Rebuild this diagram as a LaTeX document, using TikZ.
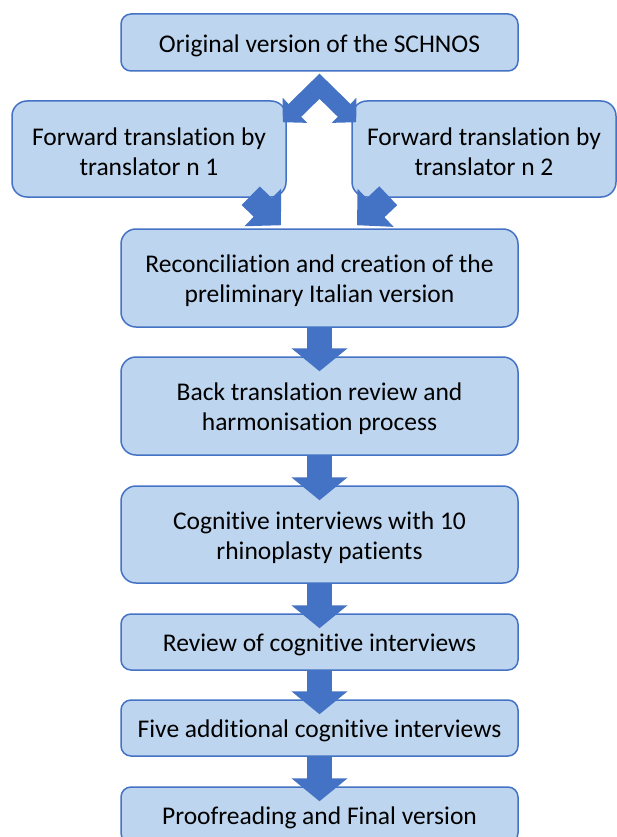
\documentclass[tikz,border=0pt]{standalone}
\usepackage{fontspec}
\setmainfont[RawFeature={-liga;-clig;-dlig;-calt}]{Carlito}
\usetikzlibrary{arrows.meta,calc}
\definecolor{boxfill}{HTML}{BDD5EE}
\definecolor{boxline}{HTML}{4472C4}
\definecolor{arrowfill}{HTML}{4472C4}
\tikzset{
  stepbox/.style={draw=boxline, line width=1.5pt, fill=boxfill, rounded corners=15pt,
    align=center, inner sep=0pt, text=black, text height=54pt,
    font=\fontsize{25.5}{30}\selectfont},
  shortbox/.style={stepbox, rounded corners=10pt, text height=24pt},
  varrow/.style={draw=arrowfill, line width=25pt,
    -{Triangle[width=55pt,length=23pt]}, shorten >=-15pt},
  chevron/.style={draw=arrowfill, line width=18pt, line join=miter,
    {Triangle[width=34pt,length=17pt]}-{Triangle[width=34pt,length=17pt]}},
  darrow/.style={draw=arrowfill, line width=26pt,
    -{Triangle[width=51pt,length=25.5pt]}}
}
\begin{document}
\begin{tikzpicture}[x=1pt,y=-1pt]
\useasboundingbox (0,0) rectangle (617,837);
\clip (0,0) rectangle (617,837);
% boxes
\node[shortbox, minimum width=397pt, minimum height=57pt] (top) at (319.5,42.5) {Original version of the SCHNOS};
\node[stepbox, minimum width=274pt, minimum height=96pt] (ft1) at (149,149) {Forward translation by\\translator n 1};
\node[stepbox, minimum width=264pt, minimum height=96pt] (ft2) at (484,149) {Forward translation by\\translator n 2};
\node[stepbox, minimum width=397pt, minimum height=98pt] (rec) at (319.5,278) {Reconciliation and creation of the\\preliminary Italian version};
\node[stepbox, minimum width=397pt, minimum height=98pt] (back) at (319.5,406) {Back translation review and\\harmonisation process};
\node[stepbox, minimum width=397pt, minimum height=97pt] (cog) at (319.5,534.5) {Cognitive interviews with 10\\rhinoplasty patients};
\node[shortbox, minimum width=397pt, minimum height=56pt] (rev) at (319.5,642) {Review of cognitive interviews};
\node[shortbox, minimum width=397pt, minimum height=56pt] (five) at (319.5,728) {Five additional cognitive interviews};
\node[shortbox, minimum width=397pt, minimum height=56pt] (proof) at (319.5,815) {Proofreading and Final version};
% chevron from top box to the two forward translations
\coordinate (apex) at ($(top.south)+(0,14.5)$);
\coordinate (tipA) at ($(ft1.north east)+(-4,22)$);
\coordinate (tipB) at ($(ft2.north west)+(5,22)$);
\draw[chevron] (tipA) -- (apex) -- (tipB);
% diagonal arrows into reconciliation
\coordinate (sA) at ($(ft1.south east)+(-36,-2)$);
\coordinate (eA) at ($(rec.north)+(-38.5,-3)$);
\coordinate (sB) at ($(ft2.south west)+(37,-2)$);
\coordinate (eB) at ($(rec.north)+(37.5,-3)$);
\draw[darrow] (sA) -- (eA);
\draw[darrow] (sB) -- (eB);
% vertical arrows
\draw[varrow] (rec.south) -- (back.north);
\draw[varrow] (back.south) -- (cog.north);
\draw[varrow] (cog.south) -- (rev.north);
\draw[varrow] (rev.south) -- (five.north);
\draw[varrow] (five.south) -- (proof.north);
\end{tikzpicture}
\end{document}
